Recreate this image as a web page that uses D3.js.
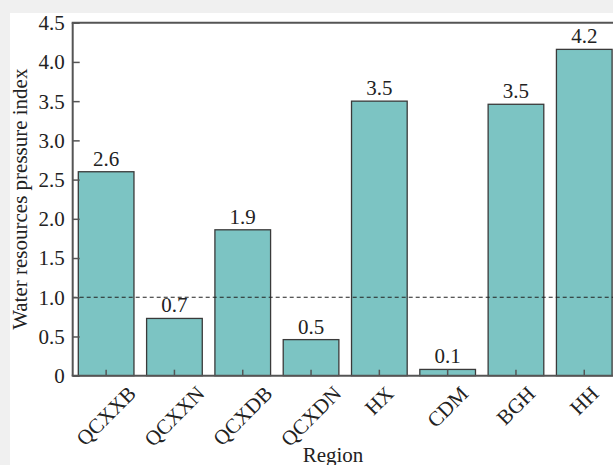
<!DOCTYPE html>
<html>
<head>
<meta charset="utf-8">
<script src="https://cdn.jsdelivr.net/npm/d3@7"></script>
<style>
  html, body { margin: 0; padding: 0; background: #f0f0f0; }
  svg { display: block; }
  text { font-family: "Liberation Serif", "Times New Roman", serif; fill: #222; }
</style>
</head>
<body>
<svg id="chart" width="613" height="465"></svg>
<script>
// Regions and their water resources pressure index
const regions = ["QCXXB", "QCXXN", "QCXDB", "QCXDN", "HX", "CDM", "BGH", "HH"];
const pressure = [2.6, 0.73, 1.86, 0.46, 3.5, 0.08, 3.46, 4.16];
const yTicks = [0, 0.5, 1.0, 1.5, 2.0, 2.5, 3.0, 3.5, 4.0, 4.5];
const yTickLabels = ["0", "0.5", "1.0", "1.5", "2.0", "2.5", "3.0", "3.5", "4.0", "4.5"];
const threshold = 1.0;

const W = 613, H = 465;
const plot = { left: 72.7, top: 22.7, right: 617.7, bottom: 375.7 };
const fontSize = "21px";

const svg = d3.select("#chart");

// white canvas panel
svg.append("rect")
  .attr("x", 10).attr("y", 13)
  .attr("width", W - 10).attr("height", H - 13)
  .attr("fill", "#ffffff");

const x = d3.scaleBand()
  .domain(regions)
  .range([plot.left, plot.right])
  .paddingInner(0.185)
  .paddingOuter(0.082);

const y = d3.scaleLinear()
  .domain([0, 4.5])
  .range([plot.bottom, plot.top]);

const axisColor = "#555";

// bars
svg.append("g")
  .selectAll("rect")
  .data(regions)
  .join("rect")
  .attr("x", d => x(d))
  .attr("width", x.bandwidth())
  .attr("y", (d, i) => y(pressure[i]))
  .attr("height", (d, i) => y(0) - y(pressure[i]))
  .attr("fill", "#7cc4c3")
  .attr("stroke", "#3a3a3a")
  .attr("stroke-width", 1.3);

// value labels
svg.append("g")
  .selectAll("text")
  .data(regions)
  .join("text")
  .attr("x", d => x(d) + x.bandwidth() / 2)
  .attr("y", (d, i) => y(pressure[i]) - 6)
  .attr("text-anchor", "middle")
  .style("font-size", fontSize)
  .text((d, i) => d3.format(".1f")(pressure[i]));

// threshold line
svg.append("line")
  .attr("x1", plot.left).attr("x2", W)
  .attr("y1", y(threshold)).attr("y2", y(threshold))
  .attr("stroke", "#222")
  .attr("stroke-width", 1.2)
  .attr("stroke-dasharray", "4,3");

// y axis (inward ticks)
const yAxis = svg.append("g")
  .attr("transform", `translate(${plot.left},0)`)
  .call(d3.axisRight(y).tickValues(yTicks).tickSize(7)
    .tickFormat((d, i) => yTickLabels[i]));
yAxis.select(".domain").remove();
yAxis.selectAll(".tick line").attr("stroke", axisColor).attr("stroke-width", 1.5);
yAxis.selectAll(".tick text")
  .attr("x", -8)
  .attr("dy", "0.33em")
  .attr("text-anchor", "end")
  .style("font-size", fontSize)
  .style("font-family", "'Liberation Serif', serif")
  .attr("fill", "#222");

// x axis (inward ticks)
const xAxis = svg.append("g")
  .attr("transform", `translate(0,${plot.bottom})`)
  .call(d3.axisTop(x).tickSize(6).tickFormat(""));
xAxis.select(".domain").remove();
xAxis.selectAll(".tick line").attr("stroke", axisColor).attr("stroke-width", 1.5);

// frame: left, bottom, top
const frame = svg.append("g").attr("stroke", axisColor).attr("stroke-width", 2).attr("fill", "none");
frame.append("line").attr("x1", plot.left).attr("x2", plot.left).attr("y1", plot.top).attr("y2", plot.bottom);
frame.append("line").attr("x1", plot.left - 1).attr("x2", W).attr("y1", plot.bottom).attr("y2", plot.bottom);
frame.append("line").attr("x1", plot.left - 1).attr("x2", W).attr("y1", plot.top).attr("y2", plot.top);

// rotated category labels: bounding box centred under tick, top aligned
const labelTop = 385;
const xl = svg.append("g")
  .selectAll("text")
  .data(regions)
  .join("text")
  .attr("text-anchor", "middle")
  .attr("dominant-baseline", "central")
  .style("font-size", fontSize)
  .text(d => d);
xl.each(function (d) {
  const bb = this.getBBox();
  const half = (bb.width * Math.SQRT1_2 + 14 * Math.SQRT1_2) / 2;
  const cx = x(d) + x.bandwidth() / 2;
  const cy = labelTop + half;
  d3.select(this).attr("transform", `translate(${cx},${cy}) rotate(-45)`);
});

// axis titles
svg.append("text")
  .attr("x", 333).attr("y", 462)
  .attr("text-anchor", "middle")
  .style("font-size", fontSize)
  .text("Region");

svg.append("text")
  .attr("transform", `translate(27,${(plot.top + plot.bottom) / 2}) rotate(-90)`)
  .attr("text-anchor", "middle")
  .style("font-size", fontSize)
  .text("Water resources pressure index");
</script>
</body>
</html>
